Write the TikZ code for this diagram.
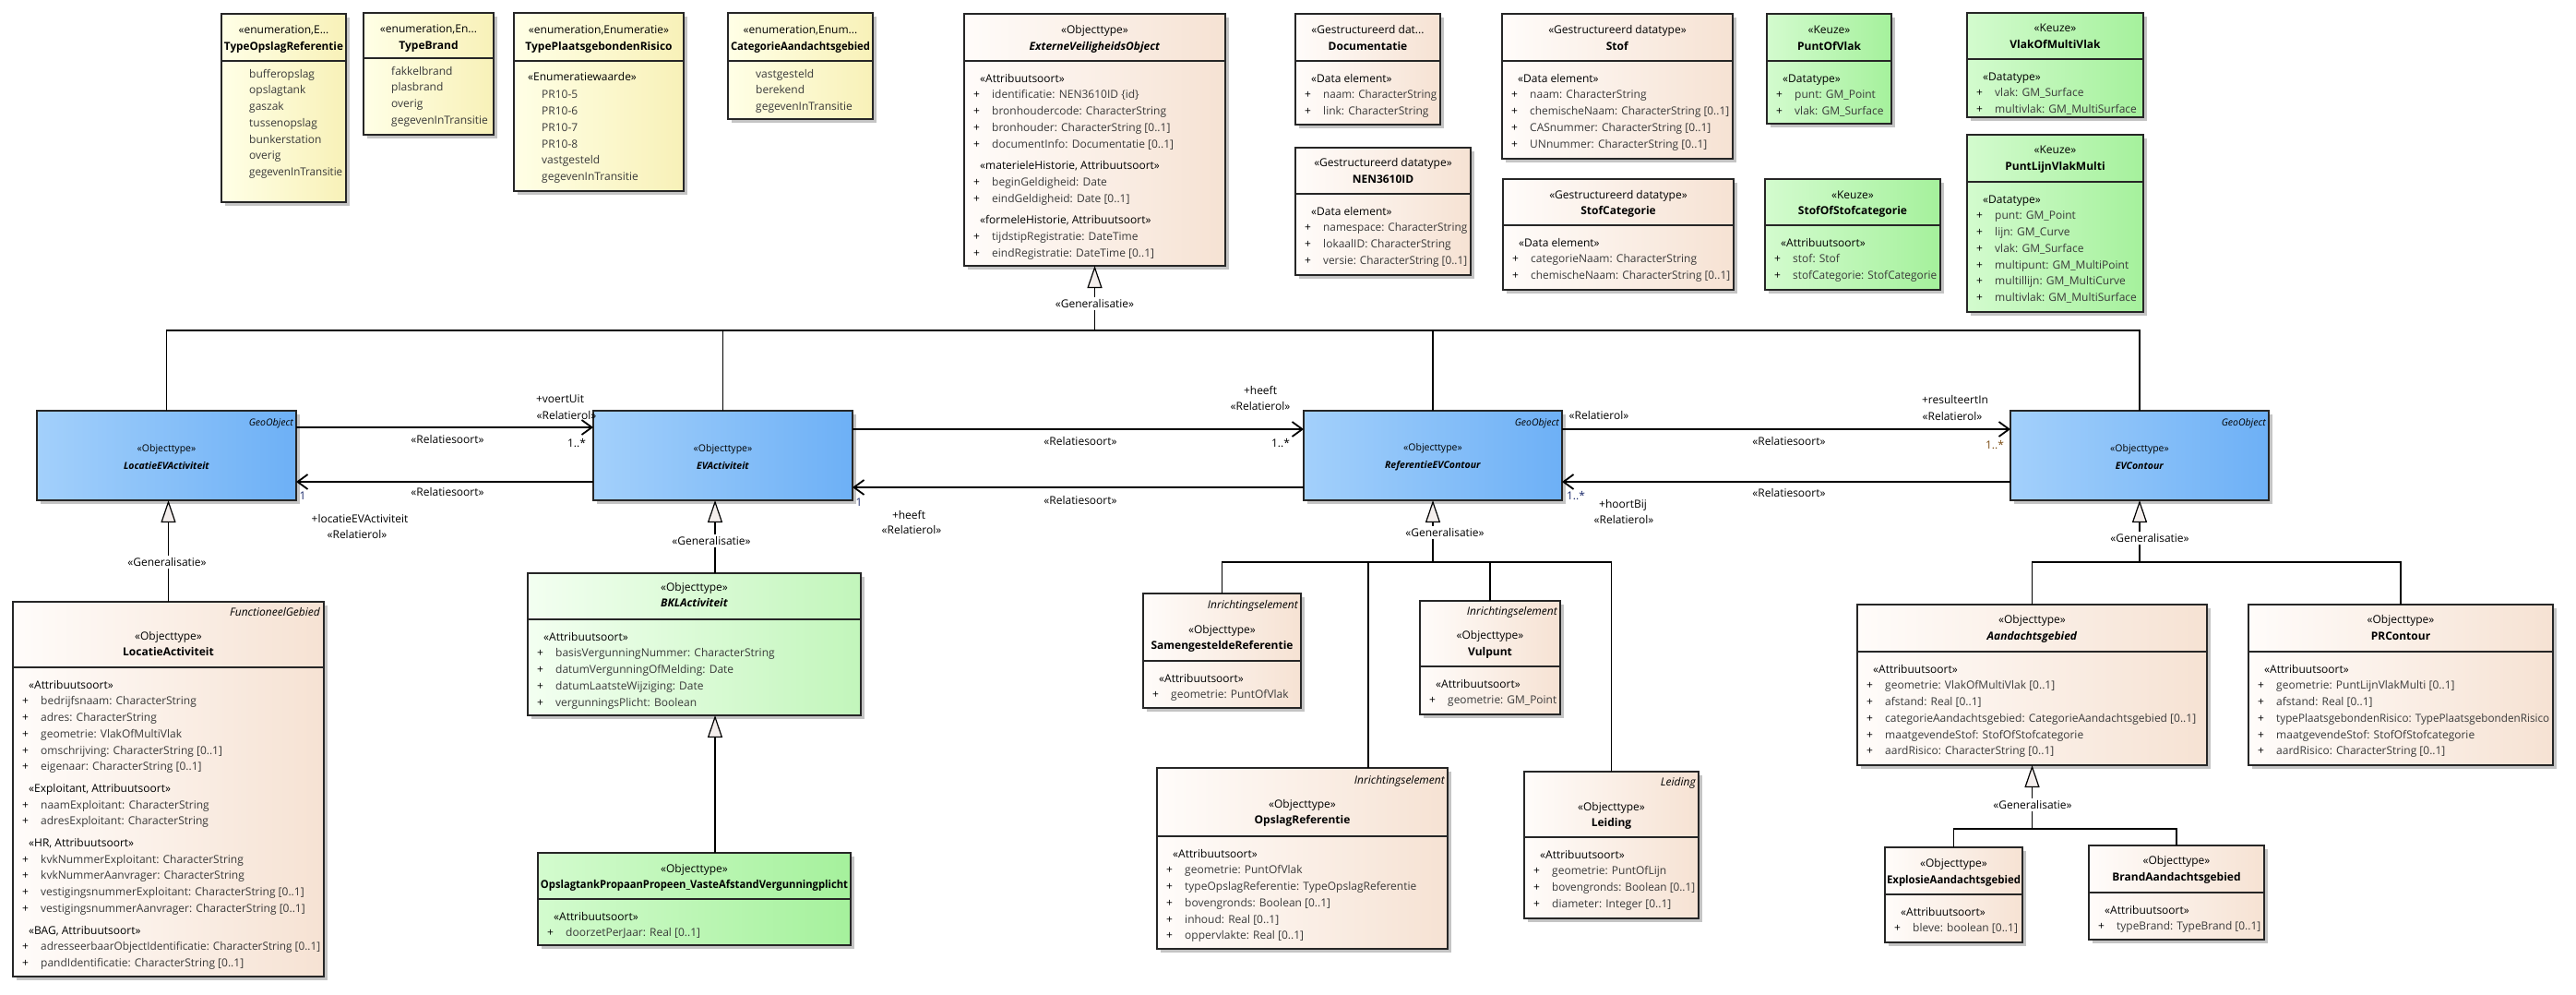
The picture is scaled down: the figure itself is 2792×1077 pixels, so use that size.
\documentclass[tikz,border=0pt]{standalone}
\usepackage{fontspec}
\setmainfont{Open Sans}
\usepackage{graphicx}
\usetikzlibrary{arrows.meta}

\definecolor{bgL}{HTML}{FFFCFA}
\definecolor{bgR}{HTML}{F6E2D3}
\definecolor{blL}{HTML}{A3D0FB}
\definecolor{blR}{HTML}{6DB0F6}
\definecolor{grL}{HTML}{D3FBCE}
\definecolor{grR}{HTML}{A5F19C}
\definecolor{lgL}{HTML}{F3FFF1}
\definecolor{lgR}{HTML}{C2F6BB}
\definecolor{yeL}{HTML}{FFFFE6}
\definecolor{yeR}{HTML}{F8F1B8}
\definecolor{clsborder}{HTML}{262626}
\definecolor{shadowgray}{HTML}{C4C4C4}
\definecolor{attrc}{HTML}{3A3A3A}
\definecolor{trifill}{HTML}{F4EEEC}
\definecolor{navyc}{HTML}{1B2A6B}
\definecolor{brownc}{HTML}{7A4A10}

\newcommand\hdrfont{\fontsize{12}{17.7}\selectfont}
\newcommand\lblfont{\fontsize{12}{14}\selectfont}
\newcommand\tagfont{\fontsize{12}{14}\selectfont\itshape}
\newcommand\bluefont{\fontsize{10.5}{19}\selectfont}

\newsavebox\fitbox
\newlength\avw
\newcommand\fitto[2]{\sbox\fitbox{#2}\ifdim\wd\fitbox>#1\relax\resizebox{#1}{\ht\fitbox}{\usebox\fitbox}\else\usebox\fitbox\fi}
\newcommand\attr[1]{\makebox[20pt][l]{+}\fitto{\avw}{\color{attrc}#1}}
\newcommand\ster[1]{\hspace*{7pt}#1}

\tikzset{
 cls/.style={draw=clsborder,line width=1.3pt,inner sep=0pt,outer sep=0pt},
 clsline/.style={draw=clsborder,line width=1.3pt},
 fbeige/.style={left color=bgL,right color=bgR},
 fblue/.style={left color=blL,right color=blR},
 fgreen/.style={left color=grL,right color=grR},
 flgreen/.style={left color=lgL,right color=lgR},
 fyellow/.style={left color=yeL,right color=yeR},
 hdr/.style={align=center,inner sep=0pt,font=\hdrfont},
 bodyn/.style={anchor=north west,inner sep=0pt,align=left,font=\hdrfont},
 tagn/.style={anchor=east,inner sep=0pt,font=\tagfont},
 gen/.style={draw=black,line width=1.2pt},
 genarrow/.style={-{Triangle[length=24pt,width=16pt,fill=trifill]}},
 assoc/.style={draw=black,line width=1.8pt,-{Straight Barb[length=11pt,width=16pt]}},
 genlbl/.style={fill=white,inner sep=2pt,font=\lblfont},
 lbl/.style={inner sep=0pt,font=\lblfont},
}

% name, x1, y1, x2, y2, divider y, fill style
\newcommand\ubox[7]{%
  \fill[shadowgray] ({#2+4},{#3+4}) rectangle ({#4+4},{#5+4});
  \node[cls,#7,minimum width={#4-#2},minimum height={#5-#3},anchor=north west] (#1) at (#2,#3) {};
  \draw[clsline] (#2,#6) -- (#4,#6);
}
% name, xc, yc, stereotype, max width, name text
\newcommand\uhdr[6]{%
  \node[hdr] (#1) at (#2,#3) {\rule{0pt}{9pt}\fitto{#5pt}{#4}\\\fitto{#5pt}{#6}\rule[-3pt]{0pt}{3pt}};
}
% name, box left, divider y, box right, content
\newcommand\ubody[5]{%
  \setlength\avw{\dimexpr #4pt - #2pt - 34pt\relax}%
  \node[bodyn] (#1) at ({#2+10},{#3+11}) {\rule{0pt}{12pt}#5};
}
% name, x1, x2, title
\newcommand\bbox[4]{%
  \fill[shadowgray] ({#2+4},449) rectangle ({#3+4},546);
  \node[cls,fblue,minimum width={#3-#2},minimum height=97,anchor=north west] (#1) at (#2,445) {};
  \node[hdr,font=\bluefont] (#1t) at ({(#2+#3)/2},495) {«Objecttype»\\\fitto{110pt}{\textbf{\textit{#4}}}};
}

\begin{document}
\begin{tikzpicture}[x=1pt,y=-1pt]
\useasboundingbox (0,0) rectangle (2792,1077);
\fill[white] (0,0) rectangle (2792,1077);

% ---------------- enumerations ----------------
\ubox{TOR}{240}{15}{375}{219}{66}{fyellow}
\uhdr{TORh}{307.5}{42.5}{«enumeration,E...}{129}{\textbf{TypeOpslagReferentie}}
\node[bodyn,text=attrc] (TORb) at (270,72) {\rule{0pt}{12pt}bufferopslag\\opslagtank\\gaszak\\tussenopslag\\bunkerstation\\overig\\\fitto{101pt}{gegevenInTransitie}};

\ubox{TB}{394}{14}{535}{146}{63}{fyellow}
\uhdr{TBh}{464.5}{41.5}{«enumeration,En...}{135}{\textbf{TypeBrand}}
\node[bodyn,text=attrc] (TBb) at (424,69) {\rule{0pt}{12pt}fakkelbrand\\plasbrand\\overig\\\fitto{108pt}{gegevenInTransitie}};

\ubox{TPR}{557}{14}{741}{207}{66}{fyellow}
\uhdr{TPRh}{649}{42.5}{«enumeration,Enumeratie»}{178}{\textbf{TypePlaatsgebondenRisico}}
\node[bodyn,text=attrc] (TPRb) at (572,75) {\rule{0pt}{12pt}\textcolor{black}{«Enumeratiewaarde»}\\[2pt]\hspace*{15pt}PR10-5\\\hspace*{15pt}PR10-6\\\hspace*{15pt}PR10-7\\\hspace*{15pt}PR10-8\\\hspace*{15pt}vastgesteld\\\hspace*{15pt}gegevenInTransitie};

\ubox{CAG}{789}{14}{946}{129}{66}{fyellow}
\uhdr{CAGh}{867.5}{42.5}{«enumeration,Enum...}{151}{\textbf{CategorieAandachtsgebied}}
\node[bodyn,text=attrc] (CAGb) at (819,72) {\rule{0pt}{12pt}vastgesteld\\berekend\\gegevenInTransitie};

% ---------------- top classes ----------------
\ubox{EVO}{1045}{15}{1328}{288}{66}{fbeige}
\uhdr{EVOh}{1186.5}{42.5}{«Objecttype»}{277}{\textbf{\textit{ExterneVeiligheidsObject}}}
\ubody{EVOb}{1045}{66}{1328}{\ster{«Attribuutsoort»}\\\attr{identificatie: NEN3610ID \{id\}}\\\attr{bronhoudercode: CharacterString}\\\attr{bronhouder: CharacterString [0..1]}\\\attr{documentInfo: Documentatie [0..1]}\\[6pt]\ster{«materieleHistorie, Attribuutsoort»}\\\attr{beginGeldigheid: Date}\\\attr{eindGeldigheid: Date [0..1]}\\[6pt]\ster{«formeleHistorie, Attribuutsoort»}\\\attr{tijdstipRegistratie: DateTime}\\\attr{eindRegistratie: DateTime [0..1]}}

\ubox{DOC}{1404}{15}{1561}{135}{66}{fbeige}
\uhdr{DOCh}{1482.5}{42.5}{«Gestructureerd dat...}{151}{\textbf{Documentatie}}
\ubody{DOCb}{1404}{66}{1561}{\ster{«Data element»}\\\attr{naam: CharacterString}\\\attr{link: CharacterString}}

\ubox{NEN}{1404}{160}{1594}{298}{210}{fbeige}
\uhdr{NENh}{1499}{186.5}{«Gestructureerd datatype»}{184}{\textbf{NEN3610ID}}
\ubody{NENb}{1404}{210}{1594}{\ster{«Data element»}\\\attr{namespace: CharacterString}\\\attr{lokaalID: CharacterString}\\\attr{versie: CharacterString [0..1]}}

\ubox{STOF}{1628}{15}{1878}{172}{66}{fbeige}
\uhdr{STOFh}{1753}{42.5}{«Gestructureerd datatype»}{244}{\textbf{Stof}}
\ubody{STOFb}{1628}{66}{1878}{\ster{«Data element»}\\\attr{naam: CharacterString}\\\attr{chemischeNaam: CharacterString [0..1]}\\\attr{CASnummer: CharacterString [0..1]}\\\attr{UNnummer: CharacterString [0..1]}}

\ubox{SCAT}{1629}{194}{1879}{314}{244}{fbeige}
\uhdr{SCATh}{1754}{221}{«Gestructureerd datatype»}{244}{\textbf{StofCategorie}}
\ubody{SCATb}{1629}{244}{1879}{\ster{«Data element»}\\\attr{categorieNaam: CharacterString}\\\attr{chemischeNaam: CharacterString [0..1]}}

\ubox{POV}{1915}{15}{2050}{134}{66}{fgreen}
\uhdr{POVh}{1982.5}{42.5}{«Keuze»}{129}{\textbf{PuntOfVlak}}
\ubody{POVb}{1915}{66}{2050}{\ster{«Datatype»}\\\attr{punt: GM\_Point}\\\attr{vlak: GM\_Surface}}

\ubox{SOS}{1913}{194}{2103}{314}{244}{fgreen}
\uhdr{SOSh}{2008}{221}{«Keuze»}{184}{\textbf{StofOfStofcategorie}}
\ubody{SOSb}{1913}{244}{2103}{\ster{«Attribuutsoort»}\\\attr{stof: Stof}\\\attr{stofCategorie: StofCategorie}}

\ubox{VOM}{2132}{14}{2323}{127}{64}{fgreen}
\uhdr{VOMh}{2227.5}{40.5}{«Keuze»}{185}{\textbf{VlakOfMultiVlak}}
\ubody{VOMb}{2132}{64}{2323}{\ster{«Datatype»}\\\attr{vlak: GM\_Surface}\\\attr{multivlak: GM\_MultiSurface}}

\ubox{PLVM}{2132}{146}{2323}{338}{197}{fgreen}
\uhdr{PLVMh}{2227.5}{172.5}{«Keuze»}{185}{\textbf{PuntLijnVlakMulti}}
\ubody{PLVMb}{2132}{197}{2323}{\ster{«Datatype»}\\\attr{punt: GM\_Point}\\\attr{lijn: GM\_Curve}\\\attr{vlak: GM\_Surface}\\\attr{multipunt: GM\_MultiPoint}\\\attr{multillijn: GM\_MultiCurve}\\\attr{multivlak: GM\_MultiSurface}}

% ---------------- middle row ----------------
\bbox{LEV}{40}{321}{LocatieEVActiviteit}
\node[tagn,font=\bluefont\itshape] (LEVg) at (318,459) {GeoObject};
\bbox{EVA}{643}{924}{EVActiviteit}
\bbox{REF}{1413}{1693}{ReferentieEVContour}
\node[tagn,font=\bluefont\itshape] (REFg) at (1690,459) {GeoObject};
\bbox{EVC}{2179}{2459}{EVContour}
\node[tagn,font=\bluefont\itshape] (EVCg) at (2456,459) {GeoObject};

% ---------------- bottom classes ----------------
\ubox{LA}{14}{652}{351}{1058}{723}{fbeige}
\node[tagn] (LAt) at (347,663) {FunctioneelGebied};
\uhdr{LAh}{182.5}{699}{«Objecttype»}{331}{\textbf{LocatieActiviteit}}
\ubody{LAb}{14}{723}{351}{\ster{«Attribuutsoort»}\\\attr{bedrijfsnaam: CharacterString}\\\attr{adres: CharacterString}\\\attr{geometrie: VlakOfMultiVlak}\\\attr{omschrijving: CharacterString [0..1]}\\\attr{eigenaar: CharacterString [0..1]}\\[6pt]\ster{«Exploitant, Attribuutsoort»}\\\attr{naamExploitant: CharacterString}\\\attr{adresExploitant: CharacterString}\\[6pt]\ster{«HR, Attribuutsoort»}\\\attr{kvkNummerExploitant: CharacterString}\\\attr{kvkNummerAanvrager: CharacterString}\\\attr{vestigingsnummerExploitant: CharacterString [0..1]}\\\attr{vestigingsnummerAanvrager: CharacterString [0..1]}\\[6pt]\ster{«BAG, Attribuutsoort»}\\\attr{adresseerbaarObjectIdentificatie: CharacterString [0..1]}\\\attr{pandIdentificatie: CharacterString [0..1]}}

\ubox{BKL}{572}{621}{933}{775}{671}{flgreen}
\uhdr{BKLh}{752.5}{646}{«Objecttype»}{355}{\textbf{\textit{BKLActiviteit}}}
\ubody{BKLb}{572}{671}{933}{\ster{«Attribuutsoort»}\\\attr{basisVergunningNummer: CharacterString}\\\attr{datumVergunningOfMelding: Date}\\\attr{datumLaatsteWijziging: Date}\\\attr{vergunningsPlicht: Boolean}}

\ubox{OPT}{583}{924}{922}{1024}{974}{fgreen}
\uhdr{OPTh}{752.5}{951}{«Objecttype»}{333}{\textbf{OpslagtankPropaanPropeen\_VasteAfstandVergunningplicht}}
\ubody{OPTb}{583}{974}{922}{\ster{«Attribuutsoort»}\\\attr{doorzetPerJaar: Real [0..1]}}

\ubox{SR}{1239}{643}{1410}{767}{716}{fbeige}
\node[tagn] (SRt) at (1407,656) {Inrichtingselement};
\uhdr{SRh}{1324.5}{692}{«Objecttype»}{165}{\textbf{SamengesteldeReferentie}}
\ubody{SRb}{1239}{716}{1410}{\ster{«Attribuutsoort»}\\\attr{geometrie: PuntOfVlak}}

\ubox{VP}{1539}{651}{1691}{774}{722}{fbeige}
\node[tagn] (VPt) at (1688,663) {Inrichtingselement};
\uhdr{VPh}{1615}{698.5}{«Objecttype»}{146}{\textbf{Vulpunt}}
\ubody{VPb}{1539}{722}{1691}{\ster{«Attribuutsoort»}\\\attr{geometrie: GM\_Point}}

\ubox{OR}{1254}{832}{1569}{1028}{906}{fbeige}
\node[tagn] (ORt) at (1566,846) {Inrichtingselement};
\uhdr{ORh}{1411.5}{881}{«Objecttype»}{309}{\textbf{OpslagReferentie}}
\ubody{ORb}{1254}{906}{1569}{\ster{«Attribuutsoort»}\\\attr{geometrie: PuntOfVlak}\\\attr{typeOpslagReferentie: TypeOpslagReferentie}\\\attr{bovengronds: Boolean [0..1]}\\\attr{inhoud: Real [0..1]}\\\attr{oppervlakte: Real [0..1]}}

\ubox{LD}{1652}{836}{1841}{995}{907}{fbeige}
\node[tagn] (LDt) at (1838,848) {Leiding};
\uhdr{LDh}{1746.5}{884}{«Objecttype»}{183}{\textbf{Leiding}}
\ubody{LDb}{1652}{907}{1841}{\ster{«Attribuutsoort»}\\\attr{geometrie: PuntOfLijn}\\\attr{bovengronds: Boolean [0..1]}\\\attr{diameter: Integer [0..1]}}

\ubox{AG}{2013}{655}{2392}{829}{706}{fbeige}
\uhdr{AGh}{2202.5}{681.5}{«Objecttype»}{373}{\textbf{\textit{Aandachtsgebied}}}
\ubody{AGb}{2013}{706}{2392}{\ster{«Attribuutsoort»}\\\attr{geometrie: VlakOfMultiVlak [0..1]}\\\attr{afstand: Real [0..1]}\\\attr{categorieAandachtsgebied: CategorieAandachtsgebied [0..1]}\\\attr{maatgevendeStof: StofOfStofcategorie}\\\attr{aardRisico: CharacterString [0..1]}}

\ubox{PR}{2437}{655}{2767}{829}{706}{fbeige}
\uhdr{PRh}{2602}{681.5}{«Objecttype»}{324}{\textbf{PRContour}}
\ubody{PRb}{2437}{706}{2767}{\ster{«Attribuutsoort»}\\\attr{geometrie: PuntLijnVlakMulti [0..1]}\\\attr{afstand: Real [0..1]}\\\attr{typePlaatsgebondenRisico: TypePlaatsgebondenRisico}\\\attr{maatgevendeStof: StofOfStofcategorie}\\\attr{aardRisico: CharacterString [0..1]}}

\ubox{EX}{2043}{918}{2192}{1021}{969}{fbeige}
\uhdr{EXh}{2117.5}{945.5}{«Objecttype»}{145}{\textbf{ExplosieAandachtsgebied}}
\ubody{EXb}{2043}{969}{2192}{\ster{«Attribuutsoort»}\\\attr{bleve: boolean [0..1]}}

\ubox{BR}{2264}{916}{2454}{1018}{967}{fbeige}
\uhdr{BRh}{2359}{942.5}{«Objecttype»}{184}{\textbf{BrandAandachtsgebied}}
\ubody{BRb}{2264}{967}{2454}{\ster{«Attribuutsoort»}\\\attr{typeBrand: TypeBrand [0..1]}}

% ---------------- generalisations ----------------
\coordinate (busT) at (0,358);
\coordinate (busR) at (0,609);
\coordinate (busA) at (0,898);
\coordinate (gxE) at (775,0);
\coordinate (gxO) at (1483,0);

\draw[gen] (LEV.north) -- (LEV.north |- busT) -- (EVC.north |- busT) -- (EVC.north);
\draw[gen] (EVA.north) -- (EVA.north |- busT);
\draw[gen] (REF.north) -- (REF.north |- busT);
\draw[gen,genarrow] (EVO.south |- busT) -- (EVO.south);
\node[genlbl] (g0) at (1186.5,329) {«Generalisatie»};

\draw[gen,genarrow] (LA.north) -- (LA.north |- LEV.south);
\node[genlbl] (g1) at (181,609) {«Generalisatie»};

\draw[gen,genarrow] (BKL.north -| gxE) -- (EVA.south -| gxE);
\node[genlbl] (g2) at (771,586) {«Generalisatie»};
\draw[gen,genarrow] (OPT.north -| gxE) -- (BKL.south -| gxE);

\draw[gen,genarrow] (REF.south |- busR) -- (REF.south);
\draw[gen] (SR.north) -- (SR.north |- busR) -- (LD.north |- busR) -- (LD.north);
\draw[gen] (OR.north -| gxO) -- (gxO |- busR);
\draw[gen] (VP.north) -- (VP.north |- busR);
\node[genlbl] (g3) at (1566,577) {«Generalisatie»};

\draw[gen,genarrow] (EVC.south |- busR) -- (EVC.south);
\draw[gen] (AG.north) -- (AG.north |- busR) -- (PR.north |- busR) -- (PR.north);
\node[genlbl] (g4) at (2330,583) {«Generalisatie»};

\draw[gen,genarrow] (AG.south |- busA) -- (AG.south);
\draw[gen] (EX.north) -- (EX.north |- busA) -- (BR.north |- busA) -- (BR.north);
\node[genlbl] (g5) at (2203,872) {«Generalisatie»};

% ---------------- associations ----------------
\coordinate (yA) at (0,463);
\coordinate (yB) at (0,522);
\coordinate (yC) at (0,465);
\coordinate (yD) at (0,528);

\draw[assoc] (LEV.east |- yA) -- (EVA.west |- yA);
\draw[assoc] (EVA.west |- yB) -- (LEV.east |- yB);
\draw[assoc] (EVA.east |- yC) -- (REF.west |- yC);
\draw[assoc] (REF.west |- yD) -- (EVA.east |- yD);
\draw[assoc] (REF.east |- yC) -- (EVC.west |- yC);
\draw[assoc] (EVC.west |- yB) -- (REF.east |- yB);

\node[lbl] (a1) at (607,432) {+voertUit};
\node[lbl] (a2) at (614,450) {«Relatierol»};
\node[lbl] (a3) at (485,476) {«Relatiesoort»};
\node[lbl] (a4) at (625,480) {1..*};
\node[lbl] (a5) at (485,533) {«Relatiesoort»};
\node[lbl,text=navyc] (a6) at (328,537) {1};
\node[lbl] (a7) at (390,562) {+locatieEVActiviteit};
\node[lbl] (a8) at (387,579) {«Relatierol»};

\node[lbl] (b1) at (1171,478) {«Relatiesoort»};
\node[lbl] (b2) at (1366,423) {+heeft};
\node[lbl] (b3) at (1366,440) {«Relatierol»};
\node[lbl] (b4) at (1388,480) {1..*};
\node[lbl] (b5) at (1171,542) {«Relatiesoort»};
\node[lbl,text=navyc] (b6) at (931,544) {1};
\node[lbl] (b7) at (985,558) {+heeft};
\node[lbl] (b8) at (988,574) {«Relatierol»};

\node[lbl] (c1) at (1733,450) {«Relatierol»};
\node[lbl] (c2) at (1939,478) {«Relatiesoort»};
\node[lbl] (c3) at (2119,433) {+resulteertIn};
\node[lbl] (c4) at (2116,451) {«Relatierol»};
\node[lbl,text=brownc] (c5) at (2162,482) {1..*};
\node[lbl] (c6) at (1939,534) {«Relatiesoort»};
\node[lbl,text=navyc] (c7) at (1708,537) {1..*};
\node[lbl] (c8) at (1759,547) {+hoortBij};
\node[lbl] (c9) at (1760,563) {«Relatierol»};
\end{tikzpicture}
\end{document}
